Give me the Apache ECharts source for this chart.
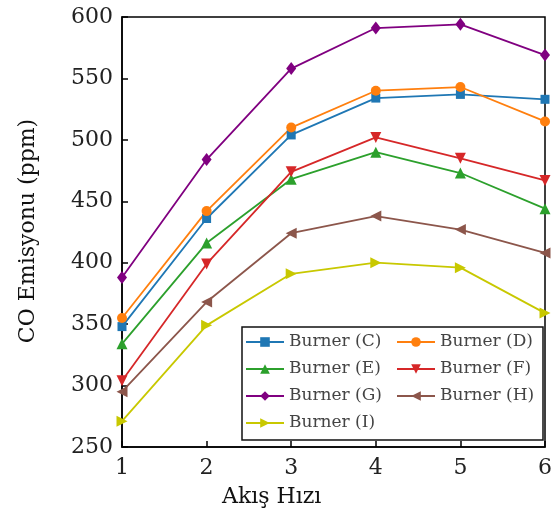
<!DOCTYPE html>
<html>
<head>
<meta charset="utf-8">
<script src="https://cdn.jsdelivr.net/npm/echarts@6/dist/echarts.min.js"></script>
<style>html,body{margin:0;padding:0;background:#fff;}#c{width:555px;height:522px;}</style>
</head>
<body>
<div id="c"></div>
<script>
const xValues = [1, 2, 3, 4, 5, 6];
const burnerC = [348, 436, 504, 534, 537, 533];
const burnerD = [355, 442, 510, 540, 543, 515];
const burnerE = [334, 416, 468, 490, 473, 444];
const burnerF = [304, 399, 474, 502, 485, 467];
const burnerG = [388, 484, 558, 591, 594, 569];
const burnerH = [295, 368, 424, 438, 427, 408];
const burnerI = [271, 349, 391, 400, 396, 359];
const seriesNames = ['Burner (C)', 'Burner (D)', 'Burner (E)', 'Burner (F)', 'Burner (G)', 'Burner (H)', 'Burner (I)'];
const xTicks = [1, 2, 3, 4, 5, 6];
const yTicks = [250, 300, 350, 400, 450, 500, 550, 600];
const xName = 'Akış Hızı';
const yName = 'CO Emisyonu (ppm)';

const allData = [burnerC, burnerD, burnerE, burnerF, burnerG, burnerH, burnerI];
const colors = ['#1f77b4', '#ff7f0e', '#2ca02c', '#d62728', '#800080', '#8c564b', '#c8c800'];
const symbols = ['rect', 'circle', 'triangle', 'triangle', 'diamond', 'triangle', 'triangle'];
const rotates = [0, 0, 0, 180, 0, 90, -90];
const sizes = [9, 10, 11, 11, [10, 13], 11, 11];

const font = 'DejaVu Serif';
const chart = echarts.init(document.getElementById('c'));
chart.setOption({
  animation: false,
  backgroundColor: '#fff',
  grid: { left: 122, right: 6, top: 17, bottom: 75, show: true, borderColor: '#000', borderWidth: 1.5, backgroundColor: 'transparent' },
  xAxis: {
    type: 'value', min: xTicks[0], max: xTicks[xTicks.length - 1], interval: 1,
    axisLine: { show: true, lineStyle: { color: '#000', width: 1.5 } },
    axisTick: { show: true, inside: true, length: 6, lineStyle: { color: '#000', width: 1.5 } },
    axisLabel: { color: '#222', fontFamily: font, fontSize: 22, margin: 10 },
    splitLine: { show: false }
  },
  yAxis: {
    type: 'value', min: yTicks[0], max: yTicks[yTicks.length - 1], interval: 50,
    axisLine: { show: true, lineStyle: { color: '#000', width: 1.5 } },
    axisTick: { show: true, inside: true, length: 6, lineStyle: { color: '#000', width: 1.5 } },
    axisLabel: { color: '#222', fontFamily: font, fontSize: 22, margin: 9 },
    splitLine: { show: false }
  },
  legend: {
    left: 242, top: 327, orient: 'horizontal', width: 296,
    padding: [5, 3, 7, 3], itemGap: 7,
    itemWidth: 38, itemHeight: 12,
    borderColor: '#111', borderWidth: 1.5, backgroundColor: '#fff',
    textStyle: { fontFamily: font, fontSize: 17, color: '#444', width: 100, lineHeight: 20 },
    data: seriesNames
  },
  graphic: [
    { type: 'text', left: 222, top: 486, style: { text: xName, font: '22px "DejaVu Serif"', fill: '#111' } },
    { type: 'text', x: 28, y: 231, rotation: Math.PI / 2, style: { text: yName, font: '22px "DejaVu Serif"', fill: '#111', align: 'center', verticalAlign: 'middle' } }
  ],
  series: allData.map((d, i) => ({
    name: seriesNames[i], type: 'line',
    data: d.map((v, j) => [xValues[j], v]),
    symbol: symbols[i], symbolSize: sizes[i], symbolRotate: rotates[i], showAllSymbol: true,
    color: colors[i],
    lineStyle: { width: 1.8, color: colors[i] },
    itemStyle: { color: colors[i] },
    clip: true, z: 2
  }))
});
</script>
</body>
</html>
